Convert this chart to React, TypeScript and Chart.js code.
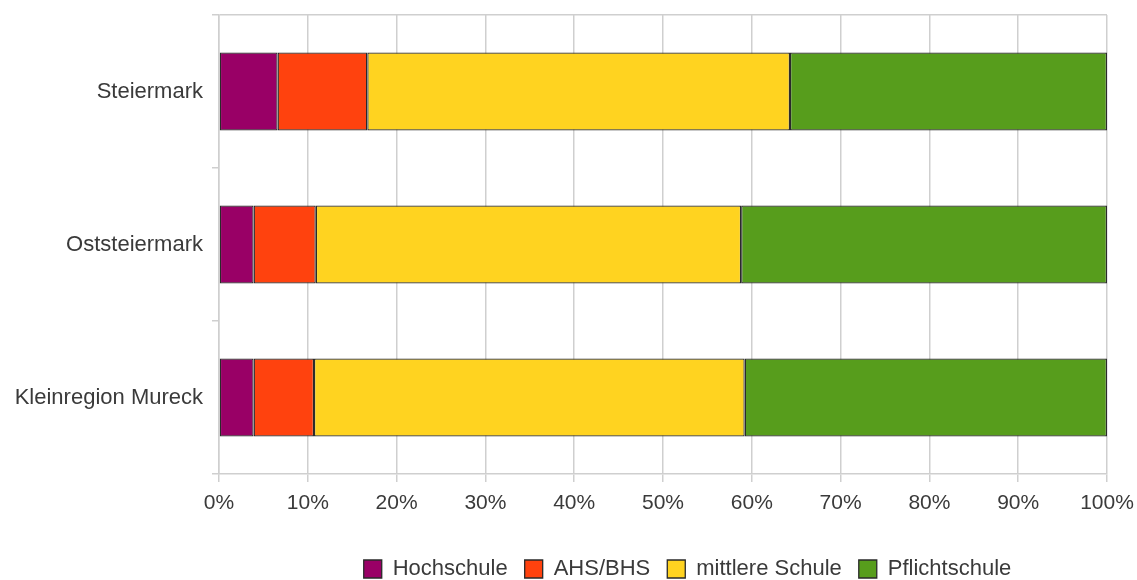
import React, { useEffect, useRef } from "react";
import { Chart, registerables } from "chart.js";

Chart.register(...registerables);

// Regions (top to bottom) and the share of each education level, in percent
const regions = ["Steiermark", "Oststeiermark", "Kleinregion Mureck"];
const hochschule = [6.6, 3.9, 3.9];
const ahsBhs = [10.1, 7.0, 6.8];
const mittlereSchule = [47.6, 47.9, 48.5];
const pflichtschule = [35.7, 41.2, 40.8];

const seriesNames = ["Hochschule", "AHS/BHS", "mittlere Schule", "Pflichtschule"];
const seriesColors = ["#990066", "#ff420e", "#ffd320", "#579d1c"];

const GRID = "#cfcfcf";
const TEXT = "#3a3a3a";
const FONT = "'Liberation Sans', Arial, sans-serif";

// Nudges the legend row into place under the plot
const LEGEND_DX = 134;
const LEGEND_DY = 10;

const legendOffset = {
  id: "legendOffset",
  afterLayout(chart: any) {
    const l = chart.legend;
    if (!l) return;
    l.left += LEGEND_DX;
    l.right += LEGEND_DX;
    l.top += LEGEND_DY;
    l.bottom += LEGEND_DY;
  },
};

export default function App() {
  const canvasRef = useRef<HTMLCanvasElement | null>(null);

  useEffect(() => {
    if (!canvasRef.current) return;
    const values = [hochschule, ahsBhs, mittlereSchule, pflichtschule];
    const chart = new Chart(canvasRef.current, {
      type: "bar",
      data: {
        labels: regions,
        datasets: values.map((v, i) => ({
          label: seriesNames[i],
          data: v,
          backgroundColor: seriesColors[i],
          borderColor: "#2a2a2a",
          borderWidth: 1.3,
          borderSkipped: false,
          categoryPercentage: 1,
          barPercentage: 0.51,
        })),
      },
      options: {
        indexAxis: "y",
        responsive: true,
        maintainAspectRatio: false,
        animation: false,
        layout: { padding: { top: 15, right: 30, left: 0, bottom: 0 } },
        font: { family: FONT },
        scales: {
          x: {
            stacked: true,
            min: 0,
            max: 100,
            ticks: {
              stepSize: 10,
              padding: 9,
              color: TEXT,
              font: { family: FONT, size: 21 },
              callback: (v: any) => `${v}%`,
            },
            grid: { color: GRID, lineWidth: 1.5, tickLength: 8 },
            border: { color: GRID, width: 1.5 },
            afterFit: (s: any) => {
              s.height = 57;
              s.paddingLeft = 0;
              s.paddingRight = 0;
            },
          },
          y: {
            stacked: true,
            ticks: {
              padding: 9,
              color: TEXT,
              font: { family: FONT, size: 22 },
            },
            grid: {
              offset: true,
              lineWidth: 1.5,
              tickLength: 7,
              color: (ctx: any) => (ctx.index === 0 ? GRID : "rgba(0,0,0,0)"),
              tickColor: GRID,
            },
            border: { color: GRID, width: 1.5 },
            afterFit: (s: any) => {
              s.width = 219;
              s.paddingTop = 0;
              s.paddingBottom = 0;
            },
          },
        },
        plugins: {
          legend: {
            position: "bottom",
            labels: {
              boxWidth: 18,
              boxHeight: 18,
              padding: 17,
              color: TEXT,
              font: { family: FONT, size: 22 },
            },
          },
          tooltip: { enabled: false },
        },
      },
      plugins: [legendOffset],
    });
    return () => chart.destroy();
  }, []);

  return (
    <div style={{ position: "fixed", left: 0, top: 0, width: 1137, height: 580, background: "#fff" }}>
      <canvas ref={canvasRef} style={{ width: "100%", height: "100%" }} />
    </div>
  );
}
